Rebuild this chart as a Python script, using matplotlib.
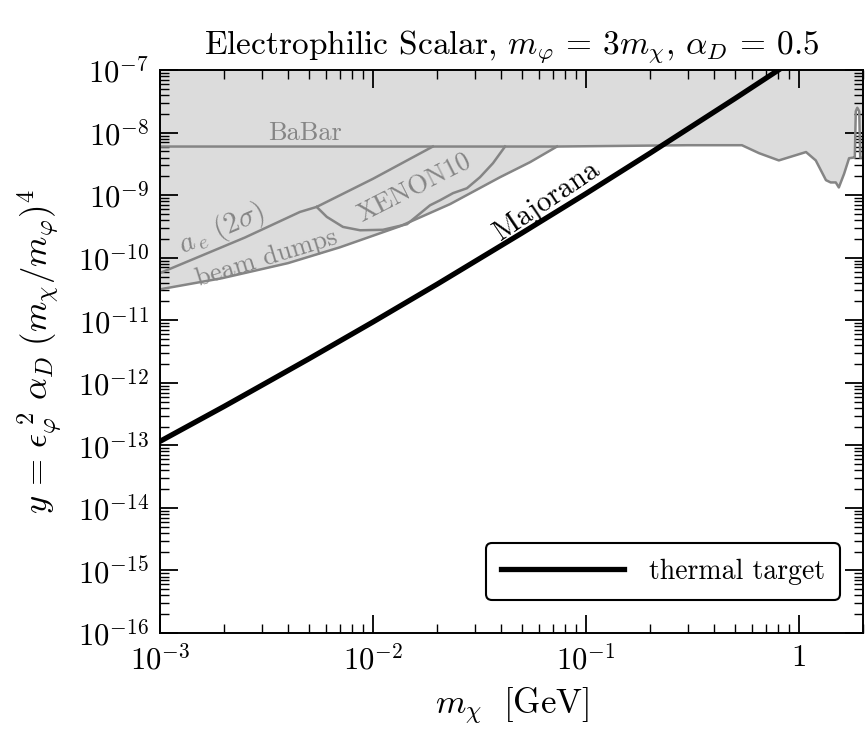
import numpy as np
import matplotlib
matplotlib.use("Agg")
import matplotlib.pyplot as plt
from matplotlib.ticker import LogLocator, FuncFormatter, NullFormatter

plt.rcParams['font.family'] = 'serif'
plt.rcParams['font.serif'] = ['cmr10']
plt.rcParams['mathtext.fontset'] = 'cm'
plt.rcParams['axes.formatter.use_mathtext'] = True

# thermal target (Majorana)
m_major = [1e-3, 2e-3, 3e-3, 5e-3, 1e-2, 2e-2, 5e-2, 0.1, 0.2, 0.5, 0.9]
y_major = [1.16e-13, 4.2e-13, 9.1e-13, 2.42e-12, 9.4e-12, 3.77e-11,
           2.48e-10, 1.06e-9, 4.7e-9, 3.5e-8, 1.3e-7]

# BaBar bound
m_babar = [1e-3, 0.0731, 0.3, 0.54, 0.65, 0.805, 1.08, 1.2, 1.34, 1.41, 1.49,
           1.54, 1.63, 1.72, 1.81, 1.83, 1.85, 1.88, 1.92, 1.94, 2.0]
y_babar = [6.0e-9, 6.0e-9, 6.3e-9, 6.3e-9, 4.7e-9, 3.6e-9, 4.9e-9, 3.6e-9,
           1.74e-9, 1.6e-9, 1.6e-9, 1.33e-9, 2.2e-9, 3.9e-9, 4.0e-9, 4.0e-9,
           2.2e-8, 2.5e-8, 2.2e-8, 4.0e-9, 4.0e-9]

# beam dumps
m_beam = [1e-3, 1.95e-3, 3.99e-3, 7.0e-3, 0.0134, 0.0230, 0.0395, 0.0546, 0.0731]
y_beam = [3.13e-11, 4.7e-11, 8.2e-11, 1.47e-10, 3.19e-10, 7.2e-10, 1.94e-9,
          3.37e-9, 6.0e-9]

# electron g-2 (2 sigma)
m_ae = [1e-3, 2.5e-3, 4.54e-3, 5.44e-3, 0.01, 0.0191]
y_ae = [5.7e-11, 2.1e-10, 5.4e-10, 6.5e-10, 1.83e-9, 6.0e-9]

# XENON10
m_xe = [5.44e-3, 6.07e-3, 7.23e-3, 8.7e-3, 0.01114, 0.01445, 0.01853, 0.02065,
        0.02377, 0.0276, 0.0318, 0.0366, 0.0417]
y_xe = [6.5e-10, 4.5e-10, 3.11e-10, 2.75e-10, 2.8e-10, 3.44e-10, 6.9e-10,
        8.3e-10, 1.08e-9, 1.29e-9, 1.94e-9, 3.25e-9, 6.0e-9]

gray_line = '#858585'
gray_fill = '#dcdcdc'

fig = plt.figure(figsize=(8.65, 7.46), dpi=100)
ax = fig.add_axes([0.185, 0.1515, 0.8127, 0.7545])

# excluded region: beam dumps up to where it meets BaBar, then BaBar
env_m = m_beam + m_babar[2:]
env_y = y_beam + y_babar[2:]
ax.fill_between(env_m, env_y, 1.0, color=gray_fill, lw=0, zorder=1)

for mm, yy in [(m_babar, y_babar), (m_beam, y_beam), (m_ae, y_ae), (m_xe, y_xe)]:
    ax.plot(mm, yy, color=gray_line, lw=1.8, zorder=2)

ax.plot(m_major, y_major, color='black', lw=3.8, zorder=3, label='thermal target')

ax.text(4.8e-3, 1.0e-8, 'BaBar', color=gray_line, fontsize=19,
        ha='center', va='center')
ax.text(1.95e-3, 2.85e-10, r'$a_{\,e}\ (2\sigma)$', color=gray_line, fontsize=21,
        ha='center', va='center', rotation=23, rotation_mode='anchor')
ax.text(3.15e-3, 9.8e-11, 'beam dumps', color=gray_line, fontsize=19,
        ha='center', va='center', rotation=17, rotation_mode='anchor')
ax.text(0.0157, 1.29e-9, 'XENON10', color=gray_line, fontsize=19,
        ha='center', va='center', rotation=27, rotation_mode='anchor')
ax.text(0.0655, 8.0e-10, 'Majorana', color='black', fontsize=21,
        ha='center', va='center', rotation=34, rotation_mode='anchor')

ax.set_xscale('log')
ax.set_yscale('log')
ax.set_xlim(1e-3, 2.0)
ax.set_ylim(1e-16, 1e-7)

def fmt(v, pos):
    e = int(round(np.log10(v)))
    if e == 0:
        return r'$1$'
    return r'$10^{%d}$' % e

ax.xaxis.set_major_locator(LogLocator(base=10, numticks=20))
ax.yaxis.set_major_locator(LogLocator(base=10, numticks=20))
ax.xaxis.set_minor_locator(LogLocator(base=10, subs=np.arange(2, 10), numticks=100))
ax.yaxis.set_minor_locator(LogLocator(base=10, subs=np.arange(2, 10), numticks=100))
ax.xaxis.set_major_formatter(FuncFormatter(fmt))
ax.yaxis.set_major_formatter(FuncFormatter(fmt))
ax.xaxis.set_minor_formatter(NullFormatter())
ax.yaxis.set_minor_formatter(NullFormatter())

ax.tick_params(which='both', direction='in', top=True, right=True, labelsize=22)
ax.tick_params(which='major', length=13, width=1.3, pad=8)
ax.tick_params(which='minor', length=6.5, width=1.0)
for s in ax.spines.values():
    s.set_linewidth(1.4)

ax.set_xlabel(r'$m_\chi\ \ [\mathrm{GeV}]$', fontsize=25, labelpad=8)
ax.set_ylabel(r'$y\, =\, \epsilon_\varphi^{\ 2}\ \alpha_D\ (m_\chi/m_\varphi)^4$',
              fontsize=25, labelpad=10)
ax.set_title(r'Electrophilic Scalar, $m_\varphi$ = $3m_\chi$, $\alpha_D$ = 0.5',
             fontsize=24, pad=12)

leg = ax.legend(loc='lower right', bbox_to_anchor=(0.967, 0.0586), borderaxespad=0,
                fontsize=20, handlelength=4.4, handletextpad=0.9, borderpad=0.55,
                fancybox=True, framealpha=1, edgecolor='black')
leg.get_frame().set_linewidth(1.5)

fig.savefig('out.png', dpi=100)
